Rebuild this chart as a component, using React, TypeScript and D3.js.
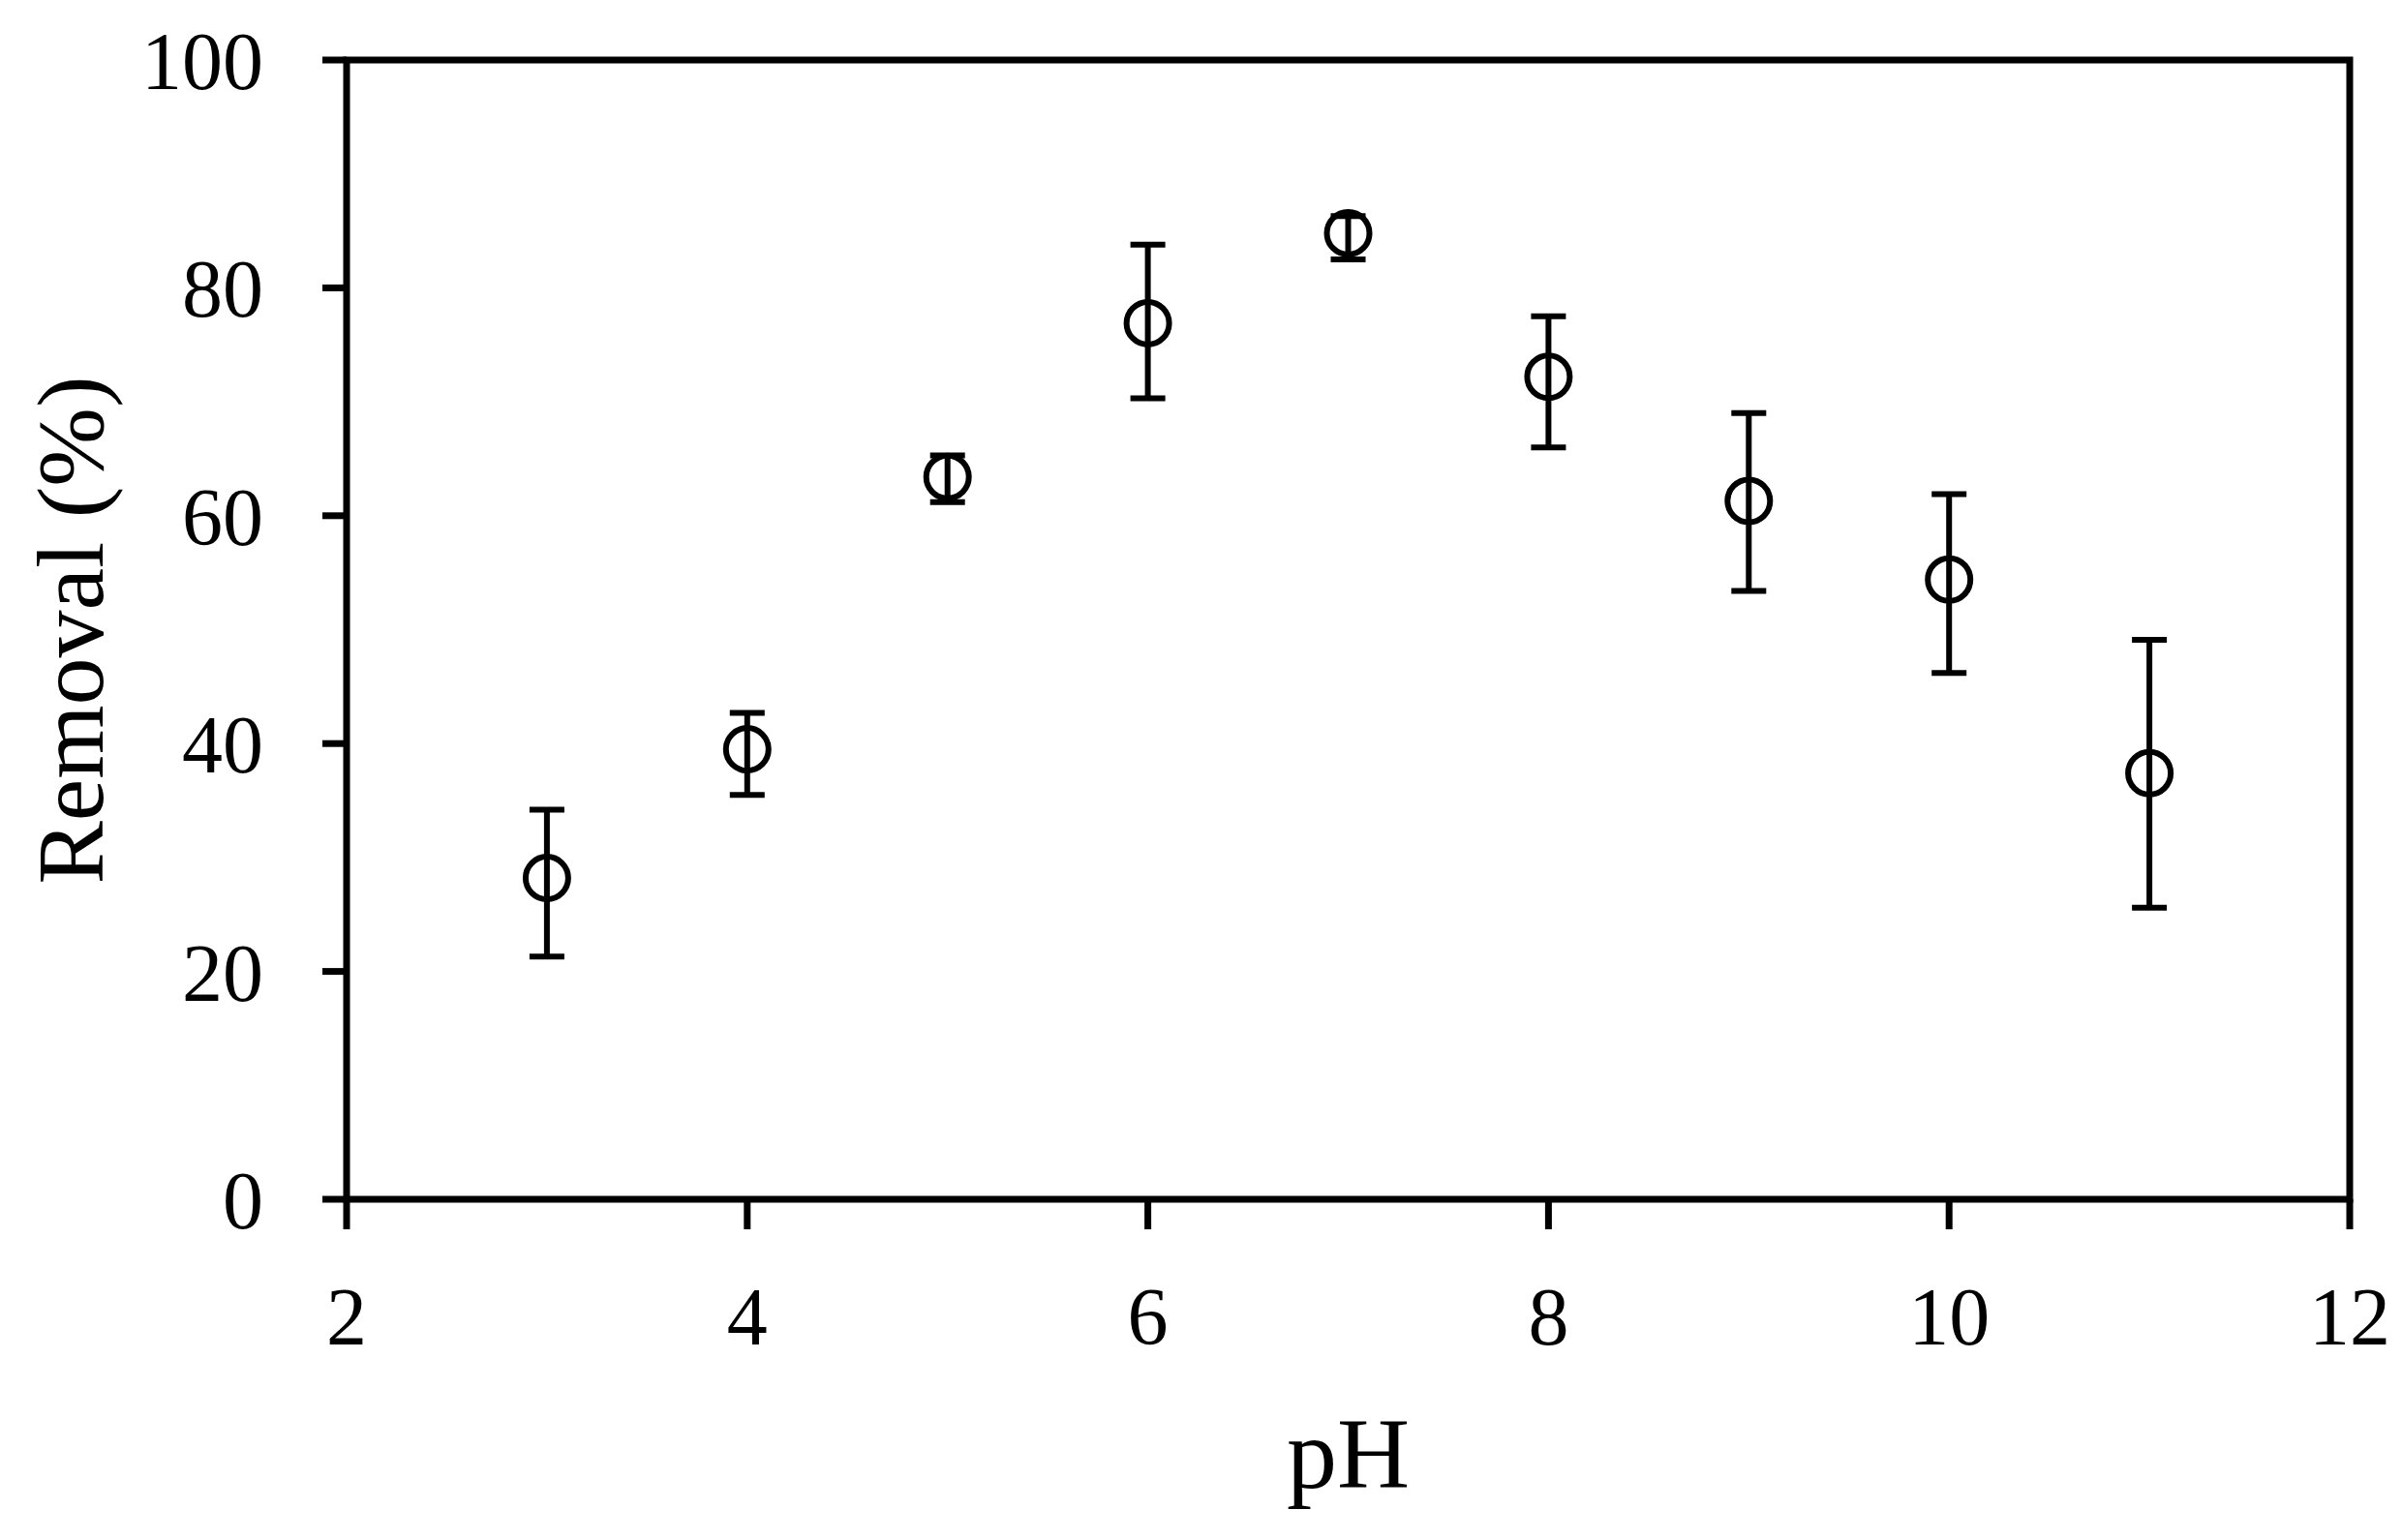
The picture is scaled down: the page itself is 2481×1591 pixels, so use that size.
import React from "react";
import * as d3 from "d3";

// values
const phValues = [3, 4, 5, 6, 7, 8, 9, 10, 11];
const removal = [28.2, 39.5, 63.4, 76.9, 84.8, 72.2, 61.3, 54.4, 37.4];
const errUpper = [34.2, 42.7, 65.3, 83.8, 86.3, 77.5, 69.0, 61.9, 49.1];
const errLower = [21.3, 35.5, 61.2, 70.3, 82.5, 66.0, 53.4, 46.2, 25.6];
const xTicks = [2, 4, 6, 8, 10, 12];
const yTicks = [0, 20, 40, 60, 80, 100];

const W = 2481;
const H = 1591;
const M = { left: 358, right: 2427, top: 62, bottom: 1239 };
const FONT = "'Liberation Serif', 'Times New Roman', serif";

export default function App() {
  const x = d3.scaleLinear().domain([2, 12]).range([M.left, M.right]);
  const y = d3.scaleLinear().domain([0, 100]).range([M.bottom, M.top]);

  const capHalf = 18;
  const axisW = 7;
  const markW = 6;

  return (
    <svg
      width={W}
      height={H}
      style={{ position: "absolute", left: 0, top: 0, background: "#fff" }}
    >
      {/* frame */}
      <rect
        x={M.left}
        y={M.top}
        width={M.right - M.left}
        height={M.bottom - M.top}
        fill="none"
        stroke="#000"
        strokeWidth={axisW}
        strokeLinejoin="miter"
      />

      {/* y ticks */}
      {yTicks.map((t) => (
        <g key={"y" + t}>
          <line x1={M.left - 25} x2={M.left} y1={y(t)} y2={y(t)} stroke="#000" strokeWidth={axisW} />
          <text x={M.left - 86} y={y(t) + 30} textAnchor="end" fontFamily={FONT} fontSize={84} fill="#000">
            {t}
          </text>
        </g>
      ))}

      {/* x ticks */}
      {xTicks.map((t) => (
        <g key={"x" + t}>
          <line x1={x(t)} x2={x(t)} y1={M.bottom} y2={M.bottom + 31} stroke="#000" strokeWidth={axisW} />
          <text x={x(t)} y={1389} textAnchor="middle" fontFamily={FONT} fontSize={84} fill="#000">
            {t}
          </text>
        </g>
      ))}

      {/* axis titles */}
      <text x={(M.left + M.right) / 2} y={1537} textAnchor="middle" fontFamily={FONT} fontSize={104} fill="#000">
        pH
      </text>
      <text
        transform={`translate(106,651) rotate(-90)`}
        textAnchor="middle"
        fontFamily={FONT}
        fontSize={98}
        fill="#000"
      >
        Removal (%)
      </text>

      {/* error bars + markers */}
      {phValues.map((p, i) => {
        const cx = x(p);
        return (
          <g key={"pt" + p}>
            <line x1={cx} x2={cx} y1={y(errUpper[i])} y2={y(errLower[i])} stroke="#000" strokeWidth={markW} />
            <line x1={cx - capHalf} x2={cx + capHalf} y1={y(errUpper[i])} y2={y(errUpper[i])} stroke="#000" strokeWidth={markW} />
            <line x1={cx - capHalf} x2={cx + capHalf} y1={y(errLower[i])} y2={y(errLower[i])} stroke="#000" strokeWidth={markW} />
            <circle cx={cx} cy={y(removal[i])} r={22} fill="none" stroke="#000" strokeWidth={markW} />
          </g>
        );
      })}
    </svg>
  );
}
